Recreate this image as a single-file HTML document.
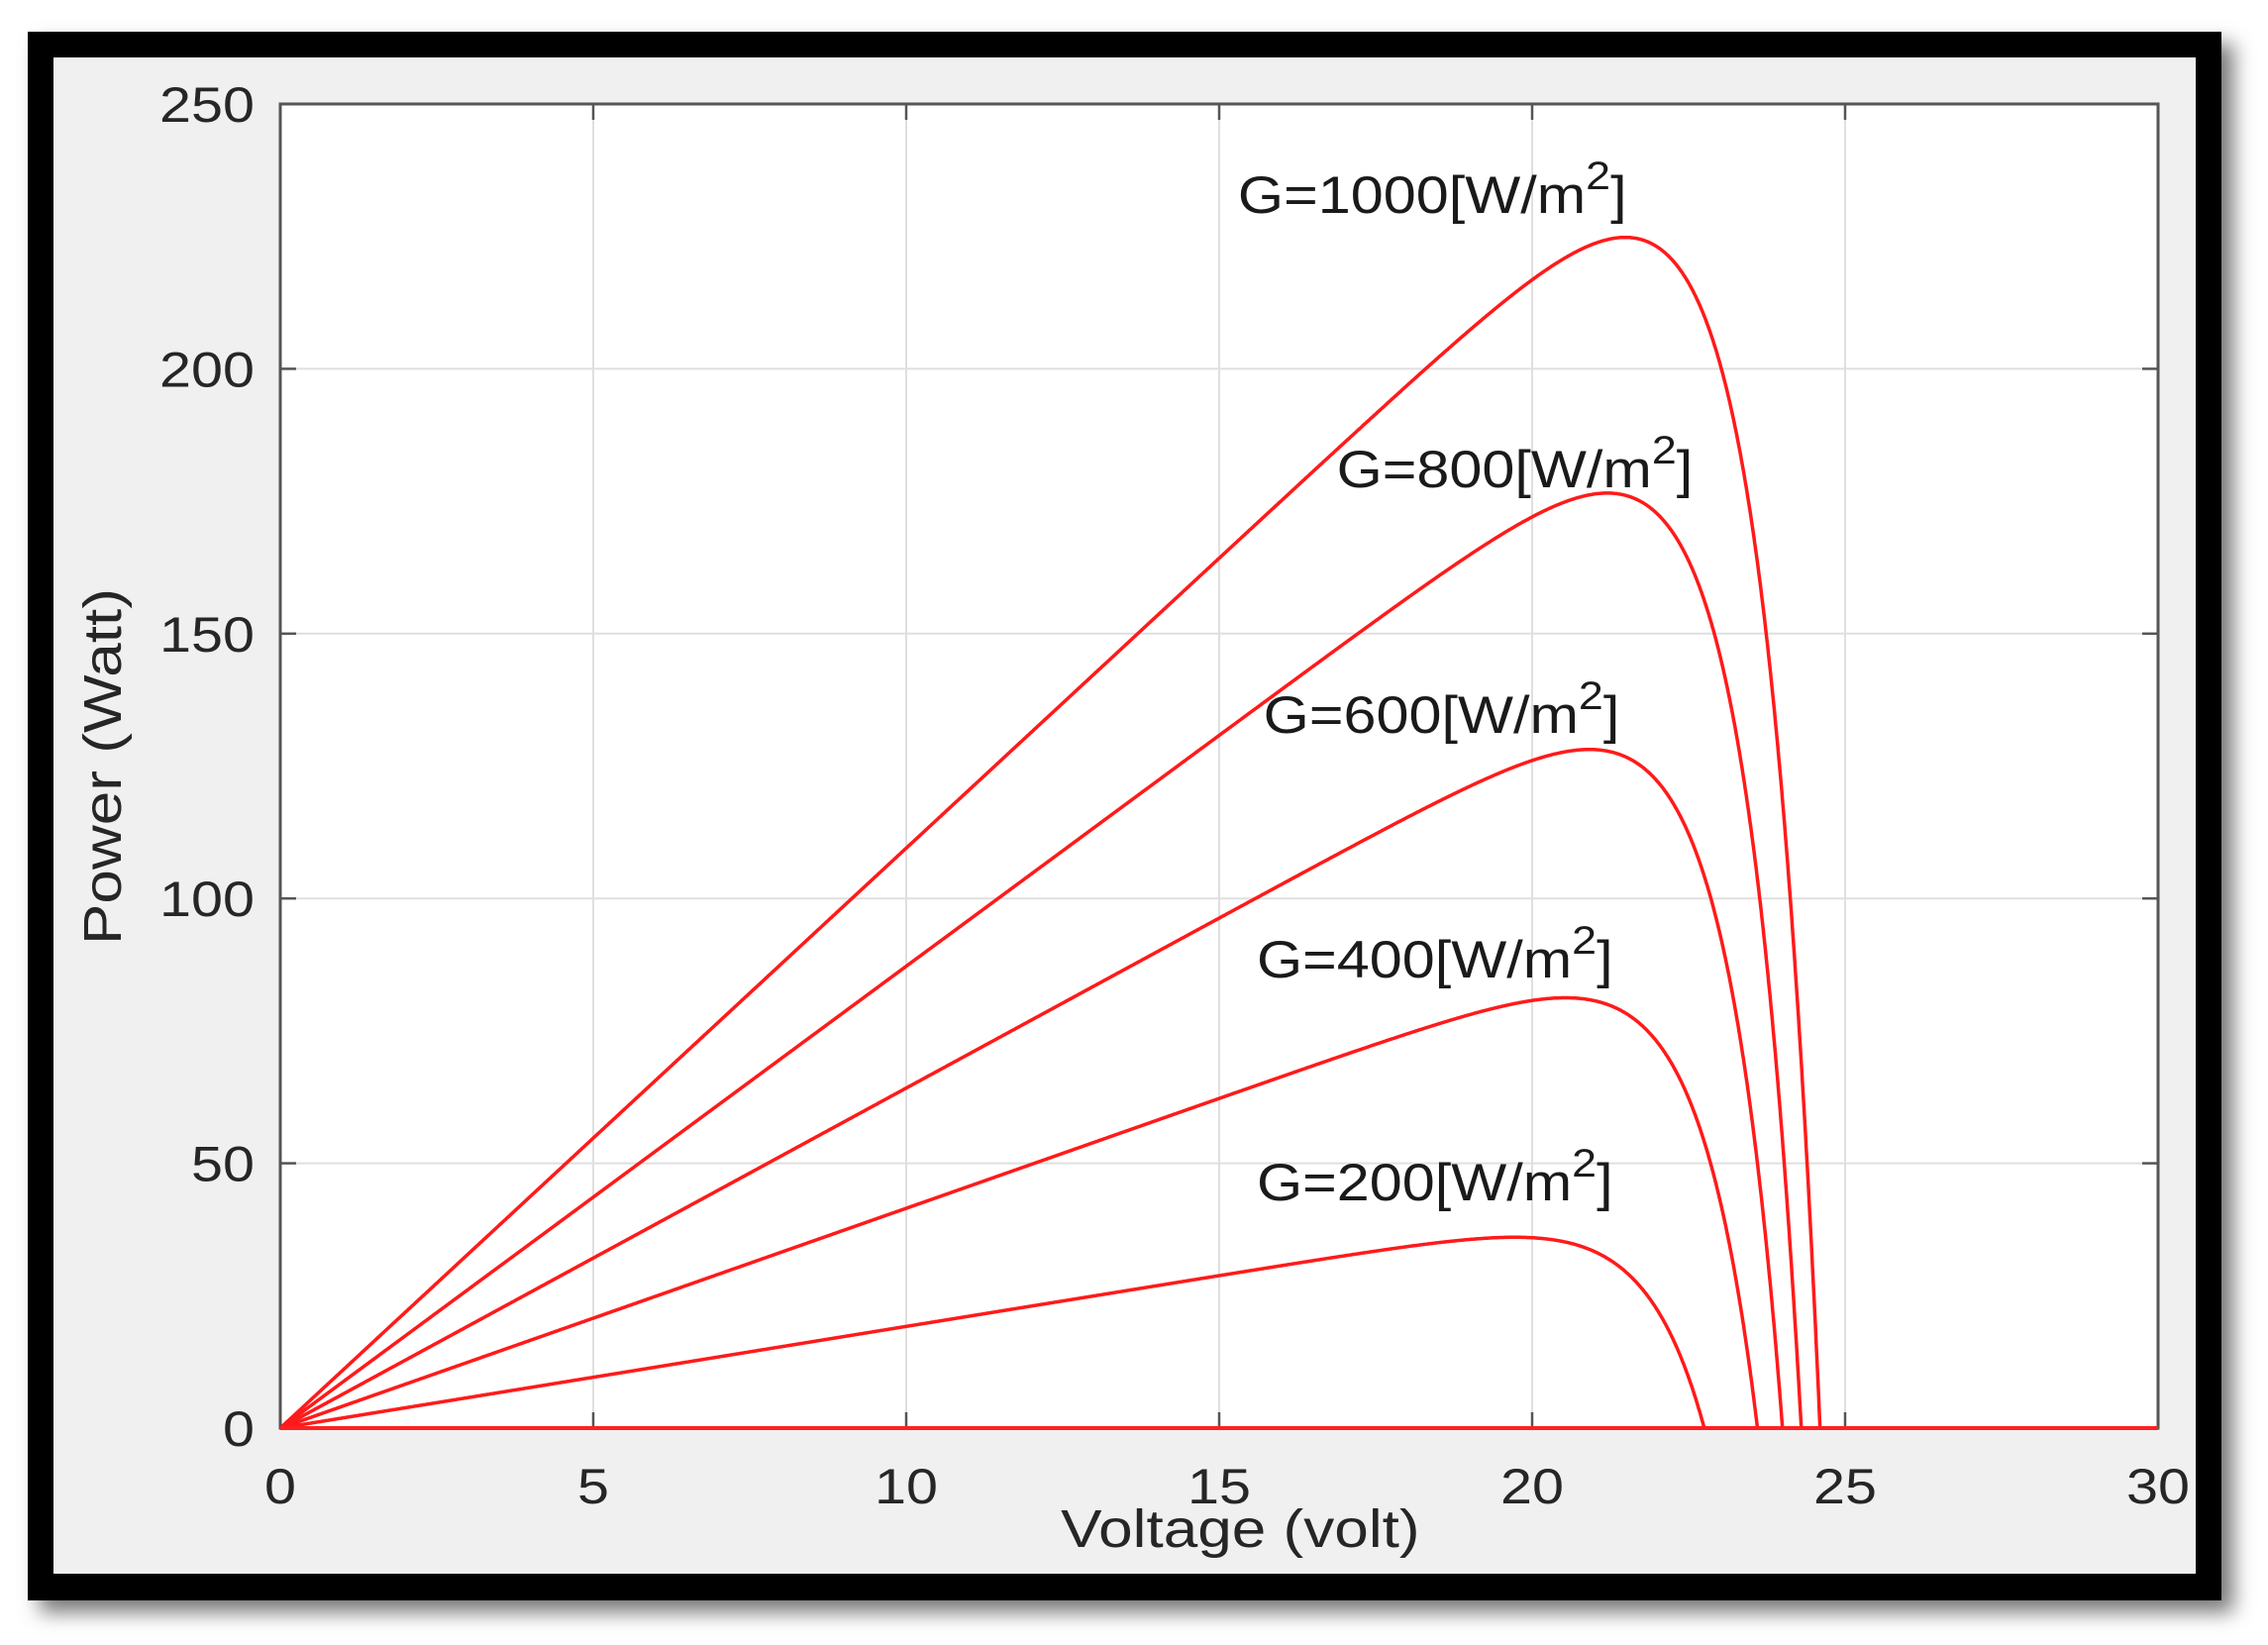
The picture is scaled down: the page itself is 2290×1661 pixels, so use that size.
<!DOCTYPE html>
<html><head><meta charset="utf-8">
<style>
html,body{margin:0;padding:0;background:#fff;}
body{width:2290px;height:1661px;position:relative;overflow:hidden;font-family:"Liberation Sans",sans-serif;}
</style></head>
<body>
<svg id="s" width="2290" height="1661" xmlns="http://www.w3.org/2000/svg" style="position:absolute;left:0;top:0">
<defs>
<filter id="sh" x="-5%" y="-5%" width="110%" height="110%"><feGaussianBlur stdDeviation="10"/></filter>
</defs>
<rect x="40" y="44" width="2215" height="1584" fill="#777" filter="url(#sh)"/>
<rect x="28" y="32" width="2215" height="1584" fill="#000"/>
<rect x="54" y="58" width="2163" height="1531" fill="#f0f0f0"/>
<rect x="283" y="105" width="1896" height="1337" fill="#fff"/>
<g id="grid" stroke="#dfdfdf" stroke-width="2"></g>
<rect x="283" y="105" width="1896" height="1337" fill="none" stroke="#555" stroke-width="3"/>
<g id="ticks" stroke="#555" stroke-width="2.5"></g>
<g id="curves" fill="none" stroke="#ff1a1a" stroke-width="3.5"></g>
<line x1="283" y1="1442" x2="2179" y2="1442" stroke="#ff2020" stroke-width="4"/>
<g transform="scale(1.15,1)"><g id="lab" font-family="Liberation Sans, sans-serif" font-size="50" fill="#262626"></g></g>
<g transform="scale(1.12,1)" font-family="Liberation Sans, sans-serif" font-size="53" fill="#1a1a1a">
<text x="1116" y="215">G=1000[W/m<tspan font-size="40" dy="-24">2</tspan><tspan dy="24">]</tspan></text>
<text x="1205" y="492">G=800[W/m<tspan font-size="40" dy="-24">2</tspan><tspan dy="24">]</tspan></text>
<text x="1139" y="740">G=600[W/m<tspan font-size="40" dy="-24">2</tspan><tspan dy="24">]</tspan></text>
<text x="1133" y="987">G=400[W/m<tspan font-size="40" dy="-24">2</tspan><tspan dy="24">]</tspan></text>
<text x="1133" y="1212">G=200[W/m<tspan font-size="40" dy="-24">2</tspan><tspan dy="24">]</tspan></text>
</g>
<g transform="scale(1.15,1)"><text x="1089" y="1562" text-anchor="middle" font-family="Liberation Sans, sans-serif" font-size="54" fill="#262626">Voltage (volt)</text></g>
<text transform="translate(122,774) rotate(-90) scale(1.15,1)" text-anchor="middle" font-family="Liberation Sans, sans-serif" font-size="54" fill="#262626">Power (Watt)</text>
</svg>
<script>
var NS="http://www.w3.org/2000/svg";
var SX=1.15;
function X(v){return 283+v*1896/30;}
function Y(p){return 1442-p*1337/250;}
function el(g,t,a,txt){var e=document.createElementNS(NS,t);for(var k in a)e.setAttribute(k,a[k]);if(txt!==undefined)e.textContent=txt;document.getElementById(g).appendChild(e);}
for(var v=5;v<30;v+=5)el("grid","line",{x1:X(v),y1:105,x2:X(v),y2:1442});
for(var p=50;p<250;p+=50)el("grid","line",{x1:283,y1:Y(p),x2:2179,y2:Y(p)});
for(var v=0;v<=30;v+=5){el("ticks","line",{x1:X(v),y1:1442,x2:X(v),y2:1426});el("ticks","line",{x1:X(v),y1:105,x2:X(v),y2:121});
 el("lab","text",{x:X(v)/SX,y:1518,"text-anchor":"middle"},String(v));}
for(var p=0;p<=250;p+=50){el("ticks","line",{x1:283,y1:Y(p),x2:299,y2:Y(p)});el("ticks","line",{x1:2179,y1:Y(p),x2:2163,y2:Y(p)});
 el("lab","text",{x:257/SX,y:Y(p)+18,"text-anchor":"end"},String(p));}
var C=[[10.95,24.6,1.0],[8.72,24.3,1.0],[6.42,24.0,1.0],[4.15,23.6,1.0],[1.92,22.75,1.0]];
C.forEach(function(c){var d="",isc=c[0],voc=c[1],a=c[2],den=Math.exp(voc/a)-1;
 for(var i=0;i<=2000;i++){var v=voc*i/2000;var I=isc*(1-(Math.exp(v/a)-1)/den);var P=Math.max(0,v*I);
  d+=(i?"L":"M")+X(v).toFixed(1)+" "+Y(P).toFixed(1);}
 el("curves","path",{d:d});});
</script>
</body></html>
